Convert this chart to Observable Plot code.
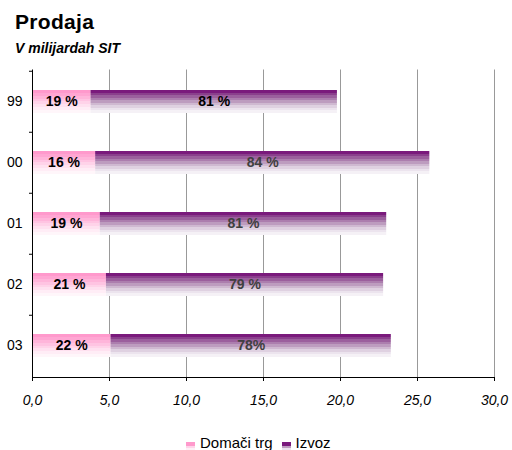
<!DOCTYPE html>
<html><head><meta charset="utf-8">
<script src="https://cdn.jsdelivr.net/npm/d3@7"></script>
<script src="https://cdn.jsdelivr.net/npm/@observablehq/plot@0.6"></script>
<style>
body{margin:0;background:#fff;font-family:"Liberation Sans",Arial,sans-serif;}
#wrap{position:relative;width:512px;height:450px;overflow:hidden;}
#title{position:absolute;left:15px;top:11px;font-weight:bold;font-size:21px;line-height:21px;color:#000;letter-spacing:0.3px;}
#subtitle{position:absolute;left:15px;top:41px;font-weight:bold;font-style:italic;font-size:14px;line-height:14px;color:#000;}
#chart{position:absolute;left:0;top:0;}
#legend{position:absolute;left:186px;top:435px;font-size:15px;line-height:15px;display:flex;align-items:center;white-space:nowrap;}
.sw{display:inline-block;width:9px;height:8px;margin-right:5px;margin-top:6px;}
.item{display:flex;align-items:center;margin-right:9px;}
</style>
</head><body>
<div id="wrap">
  <div id="chart"></div>
  <div id="title">Prodaja</div>
  <div id="subtitle">V milijardah SIT</div>
  <div id="legend"></div>
</div>
<script>
const years = ["99", "00", "01", "02", "03"];
const domestic = [3.8, 4.1, 4.4, 4.8, 5.1];
const exportVals = [16.0, 21.7, 18.6, 18.0, 18.2];
const domesticLabels = ["19 %", "16 %", "19 %", "21 %", "22 %"];
const exportLabels = ["81 %", "84 %", "81 %", "79 %", "78%"];
const xTicks = [0, 5, 10, 15, 20, 25, 30];
const seriesNames = ["Domači trg", "Izvoz"];

const rows = years.map((y, i) => ({
  year: y,
  d: domestic[i],
  e: exportVals[i],
  total: domestic[i] + exportVals[i],
  dl: domesticLabels[i],
  el: exportLabels[i]
}));

const W = 512, H = 450, mT = 69.5, mB = 73, mL = 32, mR = 18;
const bw = (H - mT - mB) / years.length;

const pinkStops = ["#ff99cc", "#ffa6d3", "#ffb5da", "#ffc4e2", "#ffd3e9", "#ffe1f0", "#ffedf6", "#fff6fa"];
const purpleStops = ["#7a1a7c", "#8a3f8c", "#9b5f9d", "#ac7eae", "#bd9cbf", "#cfb9d1", "#dfd1e1", "#ece4ee", "#f5f1f6"];

const plot = Plot.plot({
  width: W, height: H,
  marginTop: mT, marginBottom: mB, marginLeft: mL, marginRight: mR,
  style: {fontFamily: "'Liberation Sans', Arial, sans-serif", fontSize: "14px", color: "#000", background: "transparent"},
  x: {domain: [0, 30], axis: null},
  y: {domain: years, padding: 0, axis: null},
  marks: [
    Plot.gridX(xTicks.slice(1), {stroke: "#999", strokeOpacity: 1, strokeWidth: 1}),
    Plot.barX(rows, {y: "year", x1: 0, x2: "d", fill: "url(#gPink)", insetTop: 19, insetBottom: 19}),
    Plot.barX(rows, {y: "year", x1: "d", x2: "total", fill: "url(#gPurple)", insetTop: 19, insetBottom: 19}),
    Plot.text(rows, {y: "year", x: d => d.d / 2, text: "dl", fontWeight: "bold", fontSize: 14, fill: "#000"}),
    Plot.text(rows, {y: "year", x: d => d.d + d.e / 2, text: "el", fontWeight: "bold", fontSize: 14,
      fill: d => d.year === years[0] ? "#000" : "#404040"}),
    Plot.frame({anchor: "left", stroke: "#000"}),
    Plot.frame({anchor: "bottom", stroke: "#000"}),
    Plot.ruleY(years, {y: d => d, x1: 0, x2: 0, insetLeft: -3, dy: -bw / 2, stroke: "#000"}),
    Plot.axisY({tickSize: 0, tickPadding: 10, fontSize: 14, label: null}),
    Plot.axisX(xTicks, {tickSize: 4, tickPadding: 14, fontSize: 14, fontStyle: "italic", label: null,
      tickFormat: d => d.toFixed(1).replace(".", ","), stroke: "#000"})
  ]
});

function addGrad(svg, id, stops) {
  const ns = "http://www.w3.org/2000/svg";
  let defs = svg.querySelector("defs");
  if (!defs) { defs = document.createElementNS(ns, "defs"); svg.insertBefore(defs, svg.firstChild); }
  const g = document.createElementNS(ns, "linearGradient");
  g.setAttribute("id", id);
  g.setAttribute("x1", "0"); g.setAttribute("y1", "0"); g.setAttribute("x2", "0"); g.setAttribute("y2", "1");
  const n = stops.length;
  stops.forEach((c, i) => {
    [i / n, (i + 1) / n].forEach(o => {
      const s = document.createElementNS(ns, "stop");
      s.setAttribute("offset", o);
      s.setAttribute("stop-color", c);
      g.appendChild(s);
    });
  });
  defs.appendChild(g);
}
addGrad(plot, "gPink", pinkStops);
addGrad(plot, "gPurple", purpleStops);
document.getElementById("chart").appendChild(plot);

const legend = document.getElementById("legend");
const swatchCss = [
  "linear-gradient(#ff99cc 0 45%, #ffd3e9 45% 75%, #fff0f7 75%)",
  "linear-gradient(#7a1a7c 0 45%, #bd9cbf 45% 75%, #ece4ee 75%)"
];
seriesNames.forEach((name, i) => {
  const item = document.createElement("span");
  item.className = "item";
  const sw = document.createElement("span");
  sw.className = "sw";
  sw.style.background = swatchCss[i];
  item.appendChild(sw);
  item.appendChild(document.createTextNode(name));
  legend.appendChild(item);
});
</script>
</body></html>
